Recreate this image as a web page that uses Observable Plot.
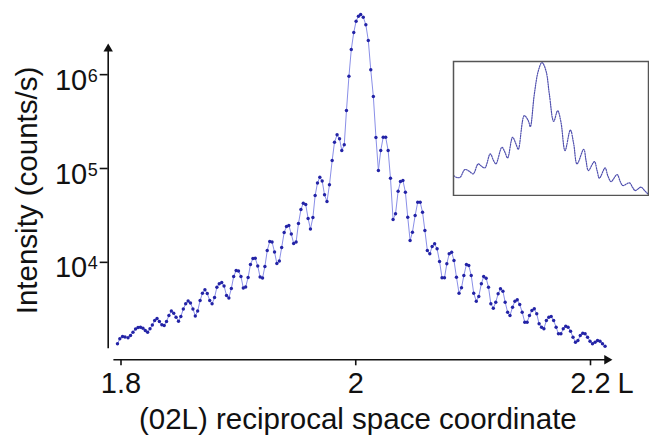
<!DOCTYPE html>
<html>
<head>
<meta charset="utf-8">
<script src="https://cdn.jsdelivr.net/npm/d3@7"></script>
<script src="https://cdn.jsdelivr.net/npm/@observablehq/plot@0.6"></script>
<style>
  html, body { margin: 0; padding: 0; background: #fff; }
  #chart { position: relative; width: 672px; height: 435px; overflow: hidden; background: #fff; }
  #inset { position: absolute; left: 451.7px; top: 59.7px; }
</style>
</head>
<body>
<div id="chart"><div id="inset"></div></div>
<script>
// (02L) scan: reciprocal-space coordinate L and measured intensity (counts/s)
const L = [
  1.7970, 1.7990, 1.8013, 1.8034, 1.8060, 1.8081, 1.8102, 1.8124, 1.8145, 1.8166,
  1.8187, 1.8207, 1.8227, 1.8247, 1.8267, 1.8287, 1.8307, 1.8327, 1.8348, 1.8368,
  1.8388, 1.8408, 1.8429, 1.8449, 1.8469, 1.8490, 1.8510, 1.8531, 1.8551, 1.8572,
  1.8592, 1.8613, 1.8633, 1.8653, 1.8674, 1.8694, 1.8715, 1.8735, 1.8756, 1.8776,
  1.8797, 1.8817, 1.8837, 1.8858, 1.8878, 1.8899, 1.8919, 1.8940, 1.8960, 1.8981,
  1.9001, 1.9022, 1.9042, 1.9062, 1.9083, 1.9103, 1.9124, 1.9144, 1.9165, 1.9185,
  1.9206, 1.9226, 1.9246, 1.9267, 1.9287, 1.9308, 1.9328, 1.9349, 1.9369, 1.9390,
  1.9410, 1.9430, 1.9451, 1.9471, 1.9492, 1.9512, 1.9533, 1.9553, 1.9574, 1.9594,
  1.9614, 1.9635, 1.9654, 1.9674, 1.9694, 1.9714, 1.9734, 1.9755, 1.9776, 1.9799,
  1.9819, 1.9841, 1.9862, 1.9881, 1.9902, 1.9921, 1.9942, 1.9962, 1.9983, 2.0003,
  2.0023, 2.0042, 2.0064, 2.0086, 2.0107, 2.0128, 2.0150, 2.0172, 2.0193, 2.0213,
  2.0234, 2.0255, 2.0276, 2.0296, 2.0318, 2.0339, 2.0361, 2.0381, 2.0402, 2.0423,
  2.0443, 2.0463, 2.0483, 2.0506, 2.0528, 2.0549, 2.0569, 2.0589, 2.0610, 2.0631,
  2.0651, 2.0672, 2.0693, 2.0714, 2.0735, 2.0756, 2.0776, 2.0796, 2.0817, 2.0837,
  2.0858, 2.0880, 2.0901, 2.0921, 2.0943, 2.0963, 2.0984, 2.1005, 2.1027, 2.1048,
  2.1070, 2.1090, 2.1111, 2.1131, 2.1151, 2.1172, 2.1193, 2.1213, 2.1233, 2.1254,
  2.1273, 2.1294, 2.1314, 2.1336, 2.1356, 2.1376, 2.1397, 2.1418, 2.1440, 2.1460,
  2.1480, 2.1501, 2.1521, 2.1542, 2.1562, 2.1583, 2.1603, 2.1624, 2.1645, 2.1665,
  2.1686, 2.1707, 2.1727, 2.1748, 2.1768, 2.1789, 2.1809, 2.1830, 2.1851, 2.1872,
  2.1893, 2.1913, 2.1934, 2.1954, 2.1975, 2.1996, 2.2017, 2.2039, 2.2060, 2.2081,
  2.2102, 2.2124
];
const counts = [
  1356, 1532, 1621, 1602, 1571, 1662, 1802, 1949, 2022, 2032,
  1983, 1878, 1802, 1958, 2150, 2401, 2521, 2343, 2161, 2124,
  2343, 2715, 3031, 2872, 2603, 2360, 2649, 3184, 3616, 3875,
  3688, 3184, 2682, 3031, 3923, 4692, 5099, 4658, 3923, 3616,
  4222, 5435, 5909, 6100, 5598, 4434, 4171, 5264, 7067, 8188,
  8087, 7067, 5329, 5462, 6897, 9487, 10990, 11050, 9144, 6982,
  6812, 9033, 13380, 16680, 16480, 12890, 9723, 10330, 14400, 20800,
  24100, 24700, 20050, 15880, 16480, 25940, 36570, 42690, 41340, 29320,
  22660, 30050, 51560, 70070, 80780, 73590, 52460, 44500, 67050, 121700,
  190600, 228700, 207300, 155500, 178900, 415000, 962700, 1854000, 2812000, 3711000,
  4196000, 4375000, 4094000, 3398000, 2311000, 1126000, 585200, 214000, 95220, 155500,
  215600, 215600, 155500, 78810, 28610, 32910, 57300, 72700, 74500, 55910,
  30280, 17100, 20960, 31570, 43750, 43750, 34230, 21850, 13380, 12340,
  14750, 15760, 13950, 10210, 6846, 6846, 9650, 12340, 12830, 10460,
  6948, 4692, 5355, 7244, 9487, 9256, 7244, 4692, 3855, 4326,
  5909, 7067, 6779, 5435, 3616, 3247, 3762, 4624, 5226, 4927,
  3762, 2943, 2715, 3327, 3855, 3990, 3555, 2943, 2303, 2303,
  2715, 3069, 3200, 2830, 2214, 2037, 1959, 2401, 2603, 2649,
  2401, 2037, 1733, 1733, 1959, 2088, 2037, 1847, 1594, 1410,
  1470, 1662, 1759, 1733, 1594, 1445, 1356, 1410, 1470, 1445,
  1356, 1278
];

// Axis ticks
const xTicks = [1.8, 2, 2.2];
const yTicks = [1e4, 1e5, 1e6];
const yExponents = ["4", "5", "6"];

// Inset: the same rod shown as a smooth profile
const insetL = [
  1.8000, 1.8068, 1.8137, 1.8233, 1.8322, 1.8404, 1.8507, 1.8575, 1.8644, 1.8753,
  1.8822, 1.8870, 1.8993, 1.9055, 1.9110, 1.9212, 1.9281, 1.9329, 1.9452, 1.9534,
  1.9575, 1.9658, 1.9740, 1.9815, 1.9897, 1.9966, 2.0055, 2.0137, 2.0205, 2.0288,
  2.0397, 2.0466, 2.0534, 2.0671, 2.0719, 2.0767, 2.0890, 2.0945, 2.0993, 2.1110,
  2.1164, 2.1233, 2.1356, 2.1418, 2.1473, 2.1610, 2.1671, 2.1726, 2.1849, 2.1918,
  2.2000
];
const insetCounts = [
  3436, 3036, 3099, 4976, 4489, 3807, 7057, 6111, 5512, 13080,
  8670, 7057, 19740, 14500, 10220, 36580, 24240, 17450, 139300, 102300,
  70650, 530300, 2238000, 3743000, 2238000, 530300, 98200, 189600, 92300, 16070,
  57520, 24240, 7057, 17450, 8670, 4677, 8150, 4677, 2914, 5512,
  3436, 2372, 3654, 2422, 1854, 2185, 1672, 1361, 1672, 1361,
  1064
];

const scan = L.map((l, i) => ({L: l, counts: counts[i]}));
const profile = insetL.map((l, i) => ({L: l, counts: insetCounts[i]}));

const font = "'Liberation Sans', Arial, Helvetica, sans-serif";
const ink = "#111";

const chart = Plot.plot({
  width: 672,
  height: 435,
  marginLeft: 107.7,
  marginRight: 66,
  marginTop: 4,
  marginBottom: 75.7,
  style: {fontFamily: font, fontSize: "29px", color: ink, background: "white", overflow: "visible"},
  x: {type: "linear", domain: [1.8, 2.2], range: [120.5, 590]},
  y: {type: "log", domain: [1e3, 1e6], range: [355.7, 74.15]},
  marks: [
    // axis lines with arrowheads
    Plot.frame({anchor: "left", insetTop: 44, insetBottom: 12.3, stroke: ink, strokeWidth: 1.6}),
    Plot.frame({anchor: "bottom", insetLeft: 6, stroke: ink, strokeWidth: 1.6}),
    Plot.dot([0], {frameAnchor: "top-left", symbol: "triangle", r: 3.5, dy: 44.4, fill: ink}),
    Plot.dot([0], {frameAnchor: "bottom-right", symbol: "triangle", r: 3.5, rotate: 90, dx: 0.5, fill: ink}),

    // y axis: ticks and 10^n labels
    Plot.axisY({ticks: yTicks, tickSize: 8, tickFormat: () => "", label: null, strokeWidth: 1.6}),
    Plot.text(yTicks, {y: (d) => d, text: () => "10", frameAnchor: "left", textAnchor: "end", lineAnchor: "bottom", dx: -21, dy: 15, fontSize: 29}),
    Plot.text(yTicks, {y: (d) => d, text: (d, i) => yExponents[i], frameAnchor: "left", textAnchor: "start", lineAnchor: "bottom", dx: -20.5, dy: 7, fontSize: 18}),

    // x axis
    Plot.axisX({ticks: xTicks, tickSize: 6, tickPadding: 7, fontSize: 29, label: null, strokeWidth: 1.6, tickFormat: (d) => String(d)}),
    Plot.text(["L"], {frameAnchor: "bottom-right", textAnchor: "start", lineAnchor: "bottom", dx: 11, dy: 33, fontSize: 29}),

    // axis titles
    Plot.text(["(02L) reciprocal space coordinate"], {frameAnchor: "bottom", textAnchor: "middle", lineAnchor: "bottom", dx: 0.5, dy: 68.7, fontSize: 29.5}),
    Plot.text(["Intensity (counts/s)"], {frameAnchor: "left", textAnchor: "middle", rotate: -90, lineAnchor: "bottom", dx: -71.7, dy: 8.35, fontSize: 29.5}),

    // measured scan
    Plot.line(scan, {x: "L", y: "counts", stroke: "#8a8fe8", strokeWidth: 1}),
    Plot.dot(scan, {x: "L", y: "counts", r: 1.7, fill: "#2323a6"})
  ]
});
document.getElementById("chart").prepend(chart);

const inset = Plot.plot({
  width: 197,
  height: 136,
  margin: 1,
  style: {background: "white"},
  x: {type: "linear", domain: [1.8, 2.2], axis: null},
  y: {type: "log", domain: [1e3, 3.98e6], axis: null},
  marks: [
    Plot.line(profile, {x: "L", y: "counts", curve: "catmull-rom", stroke: "#4f4fae", strokeWidth: 1.2, strokeDasharray: "1.3 1.2"}),
    Plot.frame({stroke: "#555", strokeWidth: 1.5})
  ]
});
document.getElementById("inset").append(inset);
</script>
</body>
</html>
